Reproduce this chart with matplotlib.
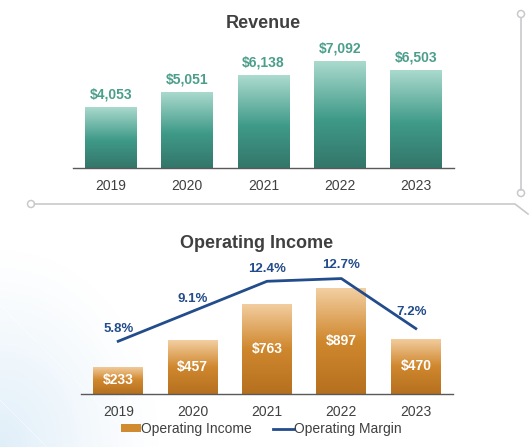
import numpy as np
import matplotlib
matplotlib.use("Agg")
import matplotlib.pyplot as plt
from matplotlib.colors import LinearSegmentedColormap
from matplotlib.patches import Circle, Patch
from matplotlib.lines import Line2D

plt.rcParams['font.family'] = ['Liberation Sans', 'DejaVu Sans']

years = ["2019", "2020", "2021", "2022", "2023"]
revenue = [4053, 5051, 6138, 7092, 6503]
op_income = [233, 457, 763, 897, 470]
op_margin = [5.8, 9.1, 12.4, 12.7, 7.2]

W, H = 530, 447
fig = plt.figure(figsize=[W / 100, H / 100], dpi=100)

teal_cmap = LinearSegmentedColormap.from_list(
    "teal", [(0, "#33766a"), (0.45, "#3f9a88"), (1, "#acdbcf")])
gold_cmap = LinearSegmentedColormap.from_list(
    "gold", [(0, "#b5701f"), (0.5, "#d0882e"), (1, "#f3cfa2")])
grad = np.linspace(0, 1, 256).reshape(-1, 1)


def gradient_bars(ax, bars, cmap, ymax):
    for b in bars:
        x0, w, h = b.get_x(), b.get_width(), b.get_height()
        b.set_facecolor("none")
        im = ax.imshow(grad, cmap=cmap, origin="lower", aspect="auto",
                       extent=[x0, x0 + w, 0, h], vmin=0, vmax=1, zorder=2)
        im.set_clip_path(b)
    ax.set_xlim(-0.5, len(bars) - 0.5)
    ax.set_ylim(0, ymax)


def style_axis(ax):
    for s in ["left", "right", "top"]:
        ax.spines[s].set_visible(False)
    ax.spines["bottom"].set_color("#595959")
    ax.spines["bottom"].set_linewidth(1.0)
    ax.set_yticks([])
    ax.tick_params(axis="x", length=0, pad=8, labelsize=10, labelcolor="#404040")
    ax.patch.set_alpha(0)


# background decoration
bg = fig.add_axes([0, 0, 1, 1], zorder=-5)
yy, xx = np.mgrid[0:H, 0:W]
d = np.hypot(xx / 1.0, (H - yy) / 1.25)
alpha = np.clip(1 - d / 160, 0, 1) ** 1.2 * 0.8
stripe = (np.abs(((xx + (H - yy)) % 95) - 47) < 1.0) & (alpha > 0.05)
alpha = np.where(stripe, alpha * 0.55, alpha)
img = np.zeros((H, W, 4))
img[..., 0], img[..., 1], img[..., 2] = 0.85, 0.92, 0.97
img[..., 3] = alpha
bg.imshow(img, extent=[0, W, H, 0], aspect="auto")
bg.set_xlim(0, W)
bg.set_ylim(H, 0)
bg.axis("off")

# frame lines
gcol = "#c9c9cd"
bg.plot([521, 521], [17.5, 189.5], color=gcol, lw=1.2)
bg.add_patch(Circle((521, 14), 3.5, fill=False, ec=gcol, lw=1.1))
bg.add_patch(Circle((521, 193), 3.5, fill=False, ec=gcol, lw=1.1))
bg.plot([34.5, 515, 528], [204, 204, 214], color=gcol, lw=1.2)
bg.add_patch(Circle((31, 204), 3.5, fill=False, ec=gcol, lw=1.1))

# Revenue
rev_h = 127
ax1 = fig.add_axes([73 / W, 1 - 168 / H, 381 / W, rev_h / H])
bars1 = ax1.bar(years, revenue, width=0.68)
gradient_bars(ax1, bars1, teal_cmap, rev_h / 0.01509)
style_axis(ax1)
for i, v in enumerate(revenue):
    ax1.annotate(f"${v:,}", (i, v), xytext=(0, 4), textcoords="offset points",
                 ha="center", va="bottom", fontsize=10, fontweight="bold",
                 color="#4b9e8a", annotation_clip=False)
fig.text(263 / W, 1 - 23 / H, "Revenue", ha="center", va="center",
         fontsize=13, fontweight="bold", color="#404040")

# Operating income
oi_h = 130
ax2 = fig.add_axes([81 / W, 1 - 394 / H, 372 / W, oi_h / H])
bars2 = ax2.bar(years, op_income, width=0.67)
gradient_bars(ax2, bars2, gold_cmap, oi_h / 0.118)
style_axis(ax2)
for i, v in enumerate(op_income):
    ax2.text(i, v / 2, f"${v}", ha="center", va="center", fontsize=10,
             fontweight="bold", color="white", zorder=4)

ax3 = ax2.twinx()
ax3.plot(range(len(years)), op_margin, color="#224c8b", lw=2, zorder=5,
         clip_on=False)
ax3.set_ylim(0, oi_h / 9.09)
ax3.axis("off")
offsets = [(0, 4.5), (0, 4.5), (0, 4.5), (0, 5.5), (-3, 7.5)]
for i, v in enumerate(op_margin):
    ax3.annotate(f"{v}%", (i, v), xytext=offsets[i], textcoords="offset points",
                 ha="center", va="bottom", fontsize=9.5, fontweight="bold",
                 color="#224c8b", annotation_clip=False)
fig.text(257 / W, 1 - 243 / H, "Operating Income", ha="center", va="center",
         fontsize=13, fontweight="bold", color="#404040")

handles = [Patch(facecolor="#d08a30", edgecolor="none"),
           Line2D([0], [0], color="#224c8b", lw=2)]
fig.legend(handles, ["Operating Income", "Operating Margin"], ncol=2,
           loc="center", bbox_to_anchor=(261 / W, 1 - 429 / H), frameon=False,
           fontsize=10, handlelength=1.5, handleheight=0.5, handletextpad=0.0,
           columnspacing=1.5, labelcolor="#404040")

fig.savefig("out.png", dpi=100)
